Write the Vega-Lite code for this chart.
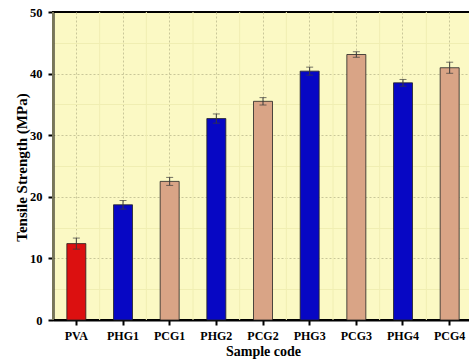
{
  "$schema": "https://vega.github.io/schema/vega-lite/v6.json",
  "width": 420,
  "height": 308,
  "autosize": {"type": "none"},
  "padding": {"left": 53, "top": 12, "right": 0, "bottom": 43},
  "background": "white",
  "config": {
    "view": {"fill": "#fbf9c4", "stroke": "black", "strokeWidth": 2},
    "font": "Liberation Serif",
    "axisX": {
      "title": "Sample code",
      "titleFont": "Liberation Serif", "titleFontWeight": "bold", "titleFontSize": 14, "titleColor": "black", "titlePadding": 3,
      "labelFont": "Liberation Serif", "labelFontWeight": "bold", "labelFontSize": 12, "labelColor": "black", "labelAngle": 0, "labelPadding": 5,
      "domainColor": "black", "domainWidth": 2,
      "tickColor": "black", "tickWidth": 2, "tickSize": 5, "bandPosition": 0.5,
      "grid": true, "gridColor": "#c9c799", "gridDash": [2, 2], "gridWidth": 1
    }
  },
  "data": {
    "values": [
      {"code": "PVA", "group": "PVA", "ts": 12.4, "err": 0.9},
      {"code": "PHG1", "group": "PHG", "ts": 18.7, "err": 0.7},
      {"code": "PCG1", "group": "PCG", "ts": 22.5, "err": 0.65},
      {"code": "PHG2", "group": "PHG", "ts": 32.7, "err": 0.75},
      {"code": "PCG2", "group": "PCG", "ts": 35.5, "err": 0.6},
      {"code": "PHG3", "group": "PHG", "ts": 40.4, "err": 0.65},
      {"code": "PCG3", "group": "PCG", "ts": 43.1, "err": 0.45},
      {"code": "PHG4", "group": "PHG", "ts": 38.5, "err": 0.55},
      {"code": "PCG4", "group": "PCG", "ts": 40.95, "err": 0.9}
    ]
  },
  "encoding": {
    "x": {
      "field": "code", "type": "nominal", "sort": null, "title": "Sample code",
      "scale": {"paddingInner": 0, "paddingOuter": 0},
      "axis": {"bandPosition": 0.5, "grid": true}
    },
    "y": {
      "field": "ts", "type": "quantitative",
      "scale": {"domain": [0, 50], "nice": false},
      "axis": {
        "title": "Tensile Strength (MPa)",
        "titleFont": "Liberation Serif", "titleFontWeight": "bold", "titleFontSize": 15, "titleColor": "black",
        "titleX": -32, "titleY": 155, "titleAngle": -90, "titleAlign": "center", "titleBaseline": "middle",
        "values": [0, 5, 10, 15, 20, 25, 30, 35, 40, 45, 50],
        "labelExpr": "datum.value % 10 === 0 ? datum.label : ''",
        "labelFont": "Liberation Serif", "labelFontWeight": "bold", "labelFontSize": 12.5, "labelColor": "black", "labelPadding": 6,
        "domainColor": "black", "domainWidth": 2,
        "tickColor": {"condition": {"test": "datum.value % 10 === 0", "value": "black"}, "value": "transparent"},
        "tickWidth": 2, "tickSize": 5,
        "grid": true,
        "gridColor": {"condition": {"test": "datum.value % 10 === 0", "value": "#c9c799"}, "value": "#f0eeb2"},
        "gridDash": {"condition": {"test": "datum.value % 10 === 0", "value": [2, 2]}, "value": []},
        "gridOpacity": {"condition": {"test": "datum.value === 50 || datum.value === 0", "value": 0}, "value": 1},
        "gridWidth": 1
      }
    }
  },
  "layer": [
    {
      "mark": {"type": "rule", "color": "#f0eeb2", "strokeWidth": 1},
      "encoding": {
        "x": {"field": "code", "type": "nominal", "sort": null, "bandPosition": 0, "title": "Sample code", "axis": {"bandPosition": 0.5, "grid": true}},
        "y": null
      }
    },
    {
      "mark": {"type": "bar", "size": 19, "stroke": "#222222", "strokeWidth": 0.8},
      "encoding": {
        "color": {
          "field": "group", "type": "nominal",
          "scale": {"domain": ["PVA", "PHG", "PCG"], "range": ["#dc1010", "#0707c4", "#d9a486"]},
          "legend": null
        }
      }
    },
    {
      "mark": {"type": "errorbar", "color": "#3a3a3a", "thickness": 1, "ticks": {"size": 7, "thickness": 1, "color": "#3a3a3a"}},
      "encoding": {
        "y": {"field": "ts", "type": "quantitative", "title": "Tensile Strength (MPa)"},
        "yError": {"field": "err"}
      }
    }
  ]
}
